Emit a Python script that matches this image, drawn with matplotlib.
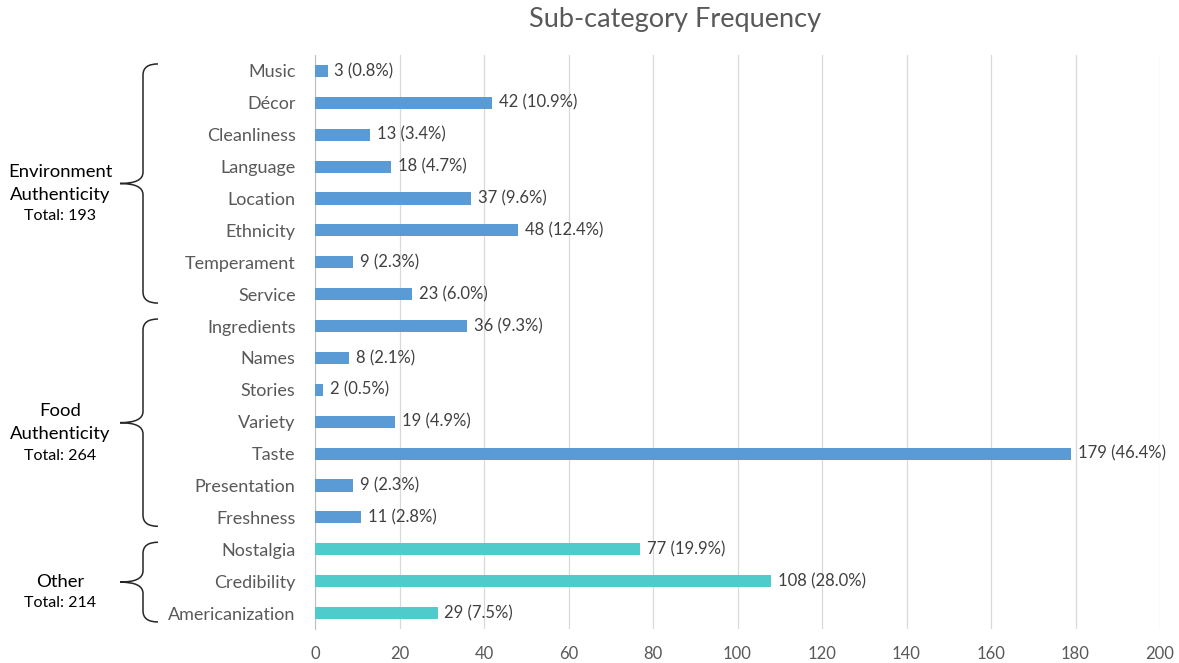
import matplotlib.pyplot as plt
from matplotlib.path import Path
from matplotlib.patches import PathPatch
from matplotlib.transforms import blended_transform_factory

categories = ['Music', 'Décor', 'Cleanliness', 'Language', 'Location', 'Ethnicity',
              'Temperament', 'Service', 'Ingredients', 'Names', 'Stories', 'Variety',
              'Taste', 'Presentation', 'Freshness', 'Nostalgia', 'Credibility',
              'Americanization']
counts = [3, 42, 13, 18, 37, 48, 9, 23, 36, 8, 2, 19, 179, 9, 11, 77, 108, 29]
pcts = [0.8, 10.9, 3.4, 4.7, 9.6, 12.4, 2.3, 6.0, 9.3, 2.1, 0.5, 4.9, 46.4, 2.3,
        2.8, 19.9, 28.0, 7.5]
groups = ['Environment\nAuthenticity', 'Food\nAuthenticity', 'Other']
group_totals = [193, 264, 214]
group_ranges = [(0, 7), (8, 14), (15, 17)]

blue = '#5B9BD5'
teal = '#4FCBCB'
txt = '#595959'

plt.rcParams['font.family'] = ['Lato', 'DejaVu Sans']

fig = plt.figure(figsize=(11.79, 6.63), dpi=100)
ax = fig.add_axes([315 / 1179, 1 - 629 / 663, (1160 - 315) / 1179, (629 - 55) / 663])

colors = [blue] * 15 + [teal] * 3
ypos = list(range(len(categories)))
ax.barh(ypos, counts, height=0.38, color=colors, zorder=3)
for y, c, p in zip(ypos, counts, pcts):
    ax.text(c + 1.6, y, f'{c} ({p:.1f}%)', va='center', ha='left',
            fontsize=12, color='#404040')

ax.set_xlim(0, 200)
ax.set_ylim(len(categories) - 0.5, -0.5)
ax.set_xticks(range(0, 201, 20))
ax.set_yticks(ypos)
ax.set_yticklabels(categories)
ax.tick_params(axis='y', length=0, labelsize=13, labelcolor=txt, pad=14)
ax.tick_params(axis='x', length=0, labelsize=12, labelcolor=txt, pad=12)
ax.grid(axis='x', color='#D9D9D9', linewidth=0.9, zorder=0)
for s in ['top', 'right', 'bottom']:
    ax.spines[s].set_visible(False)
ax.spines['left'].set_color('#BFBFBF')

fig.text(675 / 1179, 1 - 20 / 663, 'Sub-category Frequency', ha='center', va='center',
         fontsize=19.5, color=txt)

# braces
tr = blended_transform_factory(fig.transFigure, ax.transData)
W = 1179
xr, xv, xt = 158 / W, 143 / W, 120 / W
for (a, b), name, tot in zip(group_ranges, groups, group_totals):
    top, bot = a - 0.22, b + 0.28
    mid = (top + bot) / 2
    k = 0.35
    verts = [(xr, top), (xv, top), (xv, top + k),
             (xv, mid - k),
             (xv, mid), (xt, mid),
             (xv, mid), (xv, mid + k),
             (xv, bot - k),
             (xv, bot), (xr, bot)]
    codes = [Path.MOVETO, Path.CURVE3, Path.CURVE3,
             Path.LINETO,
             Path.CURVE3, Path.CURVE3,
             Path.CURVE3, Path.CURVE3,
             Path.LINETO,
             Path.CURVE3, Path.CURVE3]
    ax.add_patch(PathPatch(Path(verts, codes), transform=tr, fill=False,
                           edgecolor='#262626', linewidth=1.1, clip_on=False))
    nlines = name.count('\n') + 1
    ax.text(60 / W, mid, name, transform=tr, ha='center', va='center',
            fontsize=13.3, color='black', linespacing=1.5)
    ax.text(60 / W, mid + (12 * nlines + 9) / 32, f'Total: {tot}', transform=tr,
            ha='center', va='center', fontsize=11.5, color='black')

fig.savefig('out.png', dpi=100, facecolor='white')
